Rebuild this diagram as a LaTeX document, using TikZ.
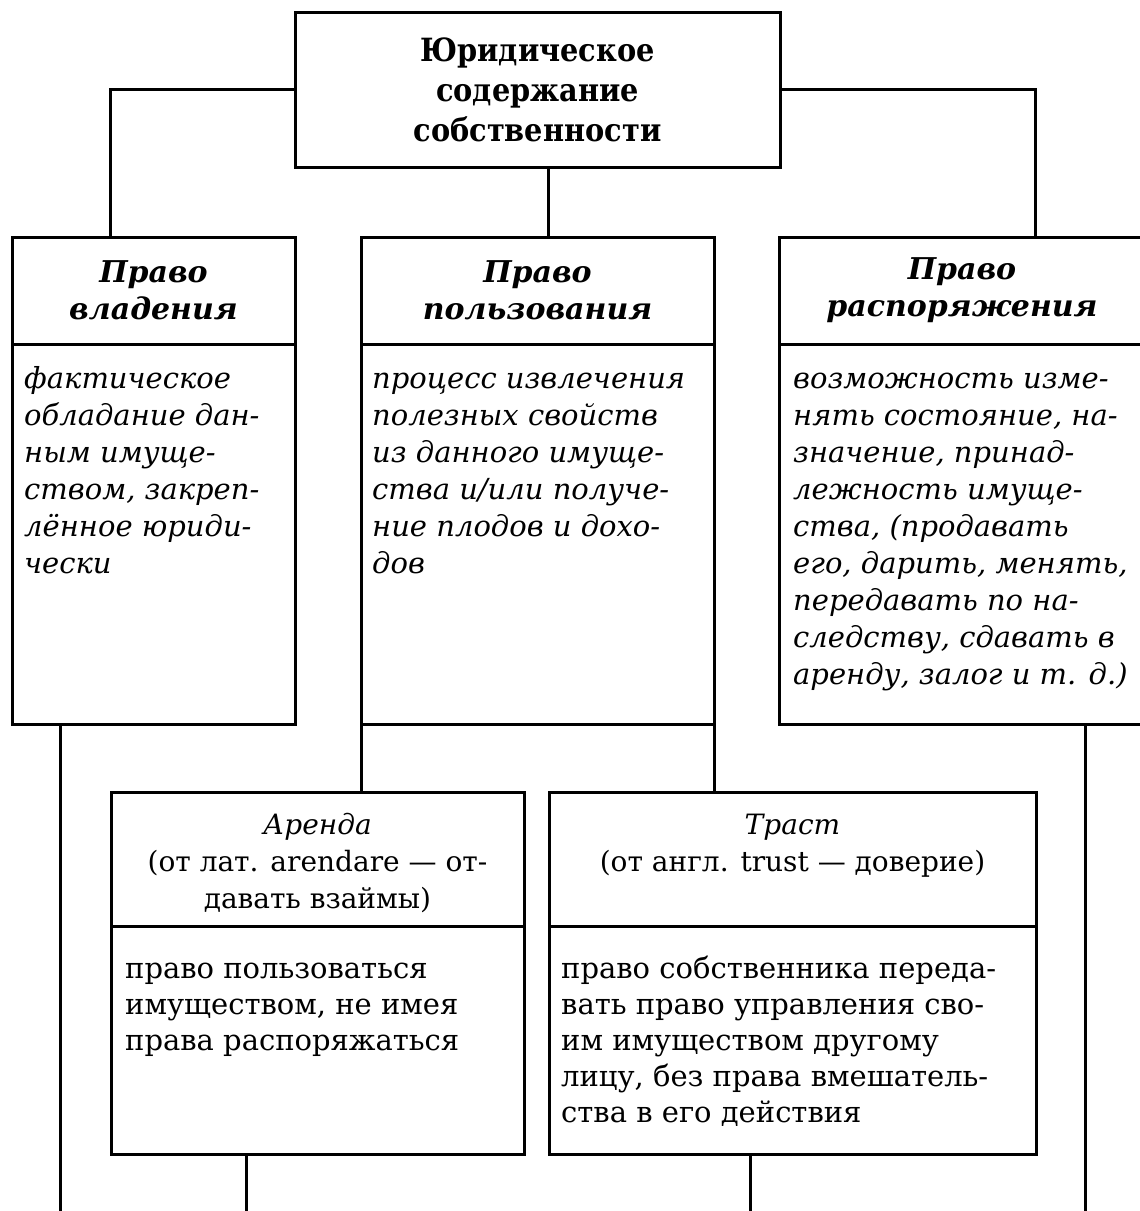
\documentclass[tikz,border=0pt]{standalone}
\usepackage{fontspec}
\setmainfont{DejaVu Serif}
\newfontfamily\titlefont{DejaVu Serif Condensed}
\usetikzlibrary{positioning}
\tikzset{
  box/.style={draw, line width=3pt, inner sep=0pt, outer sep=0pt},
  titlebox/.style={box, align=center, font=\titlefont\fontsize{32}{40}\selectfont\bfseries},
  headbox/.style={box, align=center, font=\fontsize{30}{37}\selectfont\bfseries\itshape},
  bodytext/.style={anchor=north west, inner sep=0pt, align=left, font=\fontsize{29}{37}\selectfont\itshape},
  lowtext/.style={bodytext, font=\fontsize{29}{36}\selectfont},
  subhead/.style={anchor=north, inner sep=0pt, align=center, font=\fontsize{28}{37}\selectfont},
  link/.style={line width=3pt}
}
\begin{document}
\begin{tikzpicture}[x=1pt, y=-1pt]
    % Fix the page to the size of the scan
    \useasboundingbox (0,0) rectangle (1140,1211);
    \coordinate (floor) at (0,1211);
    % Draw the top box
    \node[titlebox, minimum width=485, minimum height=155] (law) at (537.5,89.5) {Юридическое\\содержание\\собственности};
    % Draw the three rights
    \node[headbox, minimum width=283, minimum height=107] (ownH) at (153.5,290.5) {Право\\владения};
    \node[box, minimum width=283, minimum height=380, below=0pt of ownH] (ownB) {};
    \node[headbox, minimum width=353, minimum height=107] (useH) at (537.5,290.5) {Право\\пользования};
    \node[box, minimum width=353, minimum height=380, below=0pt of useH] (useB) {};
    \node[headbox, minimum width=366, minimum height=107] (dispH) at (962,290.5) {Право\\распоряжения};
    \node[box, minimum width=366, minimum height=380, below=0pt of dispH] (dispB) {};
    % Texts of the three rights
    \node[bodytext] (ownT) at ([xshift=12pt, yshift=-18pt]ownB.north west) {\strut фактическое\\обладание дан-\\ным имуще-\\ством, закреп-\\лённое юриди-\\чески};
    \node[bodytext] (useT) at ([xshift=11pt, yshift=-18pt]useB.north west) {\strut процесс извлечения\\полезных свойств\\из данного имуще-\\ства и/или получе-\\ние плодов и дохо-\\дов};
    \node[bodytext] (dispT) at ([xshift=14pt, yshift=-18pt]dispB.north west) {\strut возможность изме-\\нять состояние, на-\\значение, принад-\\лежность имуще-\\ства, (продавать\\его, дарить, менять,\\передавать по на-\\следству, сдавать в\\аренду, залог и т. д.)};
    % Draw the lease and the trust
    \node[box, minimum width=413, minimum height=134] (leaseH) at (317.5,859) {};
    \node[box, minimum width=413, minimum height=228, below=0pt of leaseH] (leaseB) {};
    \node[box, minimum width=487, minimum height=134] (trustH) at (792.5,859) {};
    \node[box, minimum width=487, minimum height=228, below=0pt of trustH] (trustB) {};
    \node[subhead] (leaseN) at ([yshift=-16pt]leaseH.north) {\itshape\strut Аренда\\(от лат. arendare — от-\\давать взаймы)};
    \node[subhead] (trustN) at ([yshift=-16pt]trustH.north) {\itshape\strut Траст\\(от англ. trust — доверие)};
    \node[lowtext] (leaseT) at ([xshift=14pt, yshift=-27pt]leaseB.north west) {\strut право пользоваться\\имуществом, не имея\\права распоряжаться};
    \node[lowtext] (trustT) at ([xshift=12pt, yshift=-27pt]trustB.north west) {\strut право собственника переда-\\вать право управления сво-\\им имуществом другому\\лицу, без права вмешатель-\\ства в его действия};
    % Join the top box to the rights
    \draw[link] (law.west) -| ([xshift=98pt]ownH.north west);
    \draw[link] (law.east) -| ([xshift=256pt]dispH.north west);
    \draw[link] ([xshift=11pt]law.south) -- ([xshift=11pt]useH.north);
    % Join the use box to the lease and the trust
    \draw[link] (useB.south west) -- (useB.south west |- leaseH.north);
    \draw[link] (useB.south east) -- (useB.south east |- trustH.north);
    % Lines running off the page
    \draw[link] ([xshift=48pt]ownB.south west) -- ([xshift=48pt]ownB.south west |- floor);
    \draw[link] ([xshift=135pt]leaseB.south west) -- ([xshift=135pt]leaseB.south west |- floor);
    \draw[link] ([xshift=201pt]trustB.south west) -- ([xshift=201pt]trustB.south west |- floor);
    \draw[link] ([xshift=306pt]dispB.south west) -- ([xshift=306pt]dispB.south west |- floor);
\end{tikzpicture}
\end{document}
